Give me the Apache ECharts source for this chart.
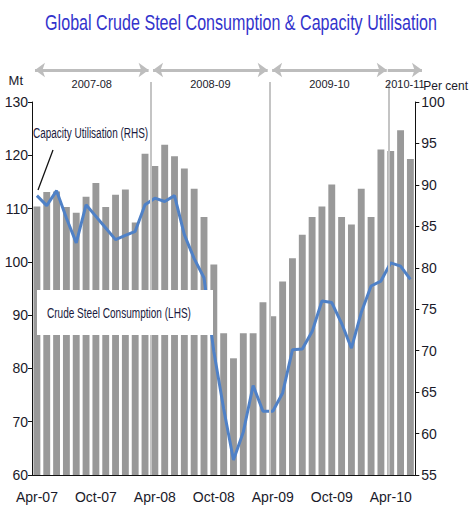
<!DOCTYPE html>
<html><head><meta charset="utf-8">
<script src="https://cdn.jsdelivr.net/npm/echarts@6/dist/echarts.min.js"></script>
<style>html,body{margin:0;padding:0;background:#fff}#c{width:471px;height:515px}</style>
</head><body><div id="c"></div>
<script>
const months = ['Apr-07','May-07','Jun-07','Jul-07','Aug-07','Sep-07','Oct-07','Nov-07','Dec-07','Jan-08','Feb-08','Mar-08',
  'Apr-08','May-08','Jun-08','Jul-08','Aug-08','Sep-08','Oct-08','Nov-08','Dec-08','Jan-09','Feb-09','Mar-09',
  'Apr-09','May-09','Jun-09','Jul-09','Aug-09','Sep-09','Oct-09','Nov-09','Dec-09','Jan-10','Feb-10','Mar-10',
  'Apr-10','May-10','Jun-10'];
// Crude steel consumption, Mt (LHS)
const consumption = [110.4,113.1,113.2,110.3,109.2,112.2,114.8,110.3,112.6,113.6,107.4,120.3,
  118.0,122.0,119.8,117.5,113.7,108.4,99.5,86.6,81.9,86.6,86.6,92.4,
  89.8,96.3,100.7,105.1,108.4,110.4,114.5,108.4,107.0,113.7,108.4,121.1,
  120.8,124.7,119.3];
// Capacity utilisation, per cent (RHS)
const utilisation = [88.7,87.5,89.3,86.0,83.0,87.6,86.2,84.8,83.4,83.9,84.4,87.6,
  88.4,88.0,88.7,84.0,81.1,78.8,69.9,63.0,56.8,60.2,65.8,62.7,
  62.7,64.9,70.1,70.2,72.3,76.0,75.8,73.3,70.3,74.6,77.8,78.4,
  80.6,80.2,78.6];
const periods = ['2007-08','2008-09','2009-10','2010-11'];
const leftAxis = {min: 60, max: 130, step: 10};
const rightAxis = {min: 55, max: 100, step: 5};

const FONT = "'Liberation Sans',Arial,sans-serif";
const TXT = '#1a1a2a';
const GL = 32, GR = 52, GT = 102, GB = 40, W = 471;
const unit = (W - GL - GR) / months.length;
const periodStarts = months.map((m, i) => m.startsWith('Apr-') ? i : -1).filter(i => i >= 0);

const chart = echarts.init(document.getElementById('c'), null, {renderer: 'svg'});

const arrowData = periods.map((p, k) => {
  const s = periodStarts[k];
  const last = k === periods.length - 1;
  const e = last ? months.length : periodStarts[k + 1];
  return [
    {coord: [s + (k === 0 ? 0.3 : (last ? -0.15 : 0.2)), 97.6], name: p,
     symbol: last ? 'none' : 'arrow'},
    {coord: [last ? e + 0.3 : e - 0.25, 97.6], symbol: 'arrow'}
  ];
});
const dividerData = periodStarts.slice(1).map(s => [
  {coord: [s, 0]}, {coord: [s, 94.7]}
]);

chart.setOption({
  animation: false,
  grid: [
    {left: GL, right: GR, top: GT, bottom: GB},
    {left: GL, right: GR - unit, top: 60, bottom: GB}
  ],
  xAxis: [{
    type: 'category', data: months, gridIndex: 0,
    axisLine: {lineStyle: {color: '#111', width: 1}},
    axisTick: {interval: 5, length: 6, lineStyle: {color: '#111'}},
    axisLabel: {interval: 5, margin: 15, fontFamily: FONT, fontSize: 14, color: TXT},
    splitLine: {show: false}
  }, {
    type: 'value', gridIndex: 1, min: 0, max: months.length + 1, show: false
  }],
  yAxis: [{
    type: 'value', gridIndex: 0, min: leftAxis.min, max: leftAxis.max, interval: leftAxis.step,
    name: 'Mt', nameGap: 15,
    nameTextStyle: {fontFamily: FONT, fontSize: 13, color: TXT, align: 'right', padding: [0, 9, 0, 0]},
    axisLine: {show: true, lineStyle: {color: '#111'}},
    axisTick: {show: true, length: 4, lineStyle: {color: '#111'}},
    axisLabel: {fontFamily: FONT, fontSize: 14, color: TXT, margin: 4},
    splitLine: {show: false}
  }, {
    type: 'value', gridIndex: 0, position: 'right', min: rightAxis.min, max: rightAxis.max, interval: rightAxis.step,
    name: 'Per cent', nameGap: 10,
    nameTextStyle: {fontFamily: FONT, fontSize: 12, color: TXT, align: 'left', padding: [0, 0, 0, 8]},
    axisLine: {show: true, lineStyle: {color: '#111'}},
    axisTick: {show: true, length: 4, lineStyle: {color: '#111'}},
    axisLabel: {fontFamily: FONT, fontSize: 14, color: TXT, margin: 6},
    splitLine: {show: false}
  }, {
    type: 'value', gridIndex: 1, min: 0, max: 100, show: false
  }],
  series: [{
    type: 'line', xAxisIndex: 1, yAxisIndex: 2, data: [[0, 0]], showSymbol: false, silent: true,
    lineStyle: {opacity: 0}, z: 1,
    markLine: {
      silent: true, animation: false,
      symbol: 'none',
      data: dividerData,
      lineStyle: {color: '#c4c4c4', width: 2, type: 'solid'},
      label: {show: false}
    }
  }, {
    type: 'line', xAxisIndex: 1, yAxisIndex: 2, data: [[0, 0]], showSymbol: false, silent: true,
    lineStyle: {opacity: 0}, z: 1,
    markLine: {
      silent: true, animation: false,
      symbol: ['arrow', 'arrow'], symbolSize: [11, 10],
      data: arrowData,
      lineStyle: {color: '#bdbdbd', width: 3, type: 'solid'},
      label: {show: true, position: 'insideMiddleBottom', distance: 9, formatter: '{b}',
        fontFamily: FONT, fontSize: 11, color: TXT}
    }
  }, {
    name: 'Crude Steel Consumption (LHS)', type: 'bar', xAxisIndex: 0, yAxisIndex: 0,
    data: consumption, barWidth: '70%', itemStyle: {color: '#999999'}, z: 2
  }, {
    name: 'Capacity Utilisation (RHS)', type: 'line', xAxisIndex: 0, yAxisIndex: 1,
    data: utilisation, showSymbol: false, symbol: 'none',
    lineStyle: {color: '#4f81c7', width: 3}, z: 3
  }],
  graphic: [
    {type: 'text', z: 100, x: 241, y: 23, scaleX: 0.732,
      style: {text: 'Global Crude Steel Consumption & Capacity Utilisation', fontFamily: FONT, fontSize: 22,
        fill: '#3333cc', textAlign: 'center', verticalAlign: 'middle'}},
    {type: 'rect', z: 100, shape: {x: 37, y: 290, width: 176, height: 45}, style: {fill: '#fff'}},
    {type: 'text', z: 101, x: 47, y: 313, scaleX: 0.67,
      style: {text: 'Crude Steel Consumption (LHS)', fontFamily: FONT, fontSize: 15,
        fill: '#1a1a40', verticalAlign: 'middle'}},
    {type: 'text', z: 101, x: 33, y: 133, scaleX: 0.665,
      style: {text: 'Capacity Utilisation (RHS)', fontFamily: FONT, fontSize: 15,
        fill: '#1a1a40', verticalAlign: 'middle'}},
    {type: 'line', z: 101, shape: {x1: 53, y1: 150, x2: 38, y2: 190}, style: {stroke: '#111', lineWidth: 1.3}}
  ]
});
</script></body></html>
